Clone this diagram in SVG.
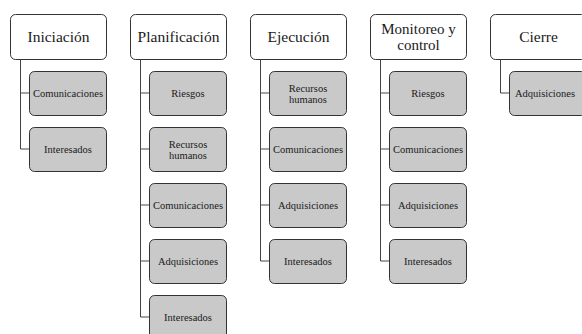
<svg xmlns="http://www.w3.org/2000/svg" width="582" height="334" viewBox="0 0 582 334">
<style>
.h{fill:#fff;stroke:#333;stroke-width:1}
.c{fill:#c9c9c9;stroke:#333;stroke-width:1}
.ht,.ct{font-family:'Liberation Serif','Times New Roman',serif;fill:#1a1a1a;text-anchor:middle}
.ht{font-size:15.5px}
.ct{font-size:10.5px}
.k{fill:none;stroke:#444;stroke-width:1}
</style>
<rect width="582" height="334" fill="#fff"/>
<g id="connectors">
<path class="k" d="M20.5 59V149M20.5 93H29M20.5 149H29"/>
<path class="k" d="M140.5 59V317M140.5 93H149M140.5 149H149M140.5 205H149M140.5 261H149M140.5 317H149"/>
<path class="k" d="M260.5 59V261M260.5 93H269M260.5 149H269M260.5 205H269M260.5 261H269"/>
<path class="k" d="M380.5 59V261M380.5 93H389M380.5 149H389M380.5 205H389M380.5 261H389"/>
<path class="k" d="M500.5 59V93H509"/>
</g>
<g id="iniciacion"><rect class="h" x="10.5" y="14.5" width="96" height="45" rx="5"/><text class="ht" x="58.5" y="42">Iniciación</text></g>
<g id="ini-comunicaciones"><rect class="c" x="29.5" y="71.5" width="77" height="44" rx="5"/><text class="ct" x="68" y="97" textLength="70" lengthAdjust="spacingAndGlyphs">Comunicaciones</text></g>
<g id="ini-interesados"><rect class="c" x="29.5" y="127.5" width="77" height="44" rx="5"/><text class="ct" x="68" y="153">Interesados</text></g>

<g id="planificacion"><rect class="h" x="130.5" y="14.5" width="96" height="45" rx="5"/><text class="ht" x="178.5" y="42">Planificación</text></g>
<g id="pla-riesgos"><rect class="c" x="149.5" y="71.5" width="77" height="44" rx="5"/><text class="ct" x="188" y="97">Riesgos</text></g>
<g id="pla-recursos"><rect class="c" x="149.5" y="127.5" width="77" height="44" rx="5"/><text class="ct" x="188" y="147.5">Recursos</text><text class="ct" x="188" y="158.5">humanos</text></g>
<g id="pla-comunicaciones"><rect class="c" x="149.5" y="183.5" width="77" height="44" rx="5"/><text class="ct" x="188" y="209" textLength="70" lengthAdjust="spacingAndGlyphs">Comunicaciones</text></g>
<g id="pla-adquisiciones"><rect class="c" x="149.5" y="239.5" width="77" height="44" rx="5"/><text class="ct" x="188" y="265">Adquisiciones</text></g>
<g id="pla-interesados"><rect class="c" x="149.5" y="295.5" width="77" height="44" rx="5"/><text class="ct" x="188" y="321">Interesados</text></g>

<g id="ejecucion"><rect class="h" x="250.5" y="14.5" width="96" height="45" rx="5"/><text class="ht" x="298.5" y="42">Ejecución</text></g>
<g id="eje-recursos"><rect class="c" x="269.5" y="71.5" width="77" height="44" rx="5"/><text class="ct" x="308" y="91.5">Recursos</text><text class="ct" x="308" y="102.5">humanos</text></g>
<g id="eje-comunicaciones"><rect class="c" x="269.5" y="127.5" width="77" height="44" rx="5"/><text class="ct" x="308" y="153" textLength="70" lengthAdjust="spacingAndGlyphs">Comunicaciones</text></g>
<g id="eje-adquisiciones"><rect class="c" x="269.5" y="183.5" width="77" height="44" rx="5"/><text class="ct" x="308" y="209">Adquisiciones</text></g>
<g id="eje-interesados"><rect class="c" x="269.5" y="239.5" width="77" height="44" rx="5"/><text class="ct" x="308" y="265">Interesados</text></g>

<g id="monitoreo"><rect class="h" x="370.5" y="14.5" width="96" height="45" rx="5"/><text class="ht" x="418.5" y="34" style="font-size:15px">Monitoreo y</text><text class="ht" x="418.5" y="50" style="font-size:15px">control</text></g>
<g id="mon-riesgos"><rect class="c" x="389.5" y="71.5" width="77" height="44" rx="5"/><text class="ct" x="428" y="97">Riesgos</text></g>
<g id="mon-comunicaciones"><rect class="c" x="389.5" y="127.5" width="77" height="44" rx="5"/><text class="ct" x="428" y="153" textLength="70" lengthAdjust="spacingAndGlyphs">Comunicaciones</text></g>
<g id="mon-adquisiciones"><rect class="c" x="389.5" y="183.5" width="77" height="44" rx="5"/><text class="ct" x="428" y="209">Adquisiciones</text></g>
<g id="mon-interesados"><rect class="c" x="389.5" y="239.5" width="77" height="44" rx="5"/><text class="ct" x="428" y="265">Interesados</text></g>

<g id="cierre"><rect class="h" x="490.5" y="14.5" width="96" height="45" rx="5"/><text class="ht" x="538.5" y="42">Cierre</text></g>
<g id="cie-adquisiciones"><rect class="c" x="509.5" y="71.5" width="77" height="44" rx="5"/><text class="ct" x="545" y="97">Adquisiciones</text></g>
</svg>
